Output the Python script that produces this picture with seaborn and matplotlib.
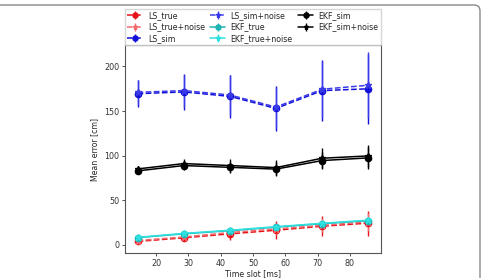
import matplotlib
matplotlib.use('Agg')
import matplotlib.pyplot as plt
from matplotlib.patches import PathPatch
from matplotlib.path import Path
import seaborn as sns

time_slot = [14.3, 28.6, 42.9, 57.1, 71.4, 85.7]

ls_true = [4.0, 8.0, 12.5, 16.5, 21.0, 24.5]
ls_true_err = [1.5, 4.0, 7.0, 10.0, 11.0, 14.0]
ls_true_noise = [5.0, 9.0, 14.0, 18.0, 22.0, 26.0]
ls_true_noise_err = [1.5, 3.0, 5.0, 7.0, 8.0, 10.0]

ls_sim = [169.5, 171.5, 166.5, 153.0, 173.0, 175.0]
ls_sim_err = [15.0, 20.0, 24.0, 25.0, 34.0, 39.0]
ls_sim_noise = [171.0, 173.0, 168.0, 154.5, 174.5, 179.0]
ls_sim_noise_err = [14.0, 18.0, 22.0, 23.0, 32.0, 37.0]

ekf_true = [8.2, 12.5, 16.0, 20.0, 23.8, 27.3]
ekf_true_err = [1.0, 1.5, 2.0, 2.0, 2.5, 3.0]
ekf_true_noise = [8.6, 13.0, 16.5, 20.5, 24.3, 27.8]
ekf_true_noise_err = [1.0, 1.5, 2.0, 2.0, 2.5, 3.0]

ekf_sim = [83.0, 89.0, 87.0, 85.0, 94.6, 97.6]
ekf_sim_err = [3.5, 5.0, 6.5, 8.0, 10.0, 12.0]
ekf_sim_noise = [85.2, 91.2, 89.0, 86.7, 97.2, 99.8]
ekf_sim_noise_err = [3.5, 5.5, 7.0, 8.0, 11.0, 12.5]

series = [
    ('LS_true', ls_true, ls_true_err, '#e8121a', 'o', '--'),
    ('LS_true+noise', ls_true_noise, ls_true_noise_err, '#f06a6e', '*', '--'),
    ('LS_sim', ls_sim, ls_sim_err, '#1010d8', 'o', '--'),
    ('LS_sim+noise', ls_sim_noise, ls_sim_noise_err, '#3a3ae8', '*', '--'),
    ('EKF_true', ekf_true, ekf_true_err, '#1fb3b3', 'o', '-'),
    ('EKF_true+noise', ekf_true_noise, ekf_true_noise_err, '#2ee0e0', '*', '-'),
    ('EKF_sim', ekf_sim, ekf_sim_err, 'black', 'o', '-'),
    ('EKF_sim+noise', ekf_sim_noise, ekf_sim_noise_err, 'black', '*', '-'),
]

sns.set_theme(style='ticks')
plt.rcParams['font.family'] = ['DejaVu Sans']

fig = plt.figure(figsize=(4.83, 2.78), dpi=100)
ax = fig.add_axes([0.2588, 0.0899, 0.53, 0.748])

for name, vals, err, color, marker, ls in series:
    ax.errorbar(time_slot, vals, yerr=err, color=color, marker=marker, linestyle=ls,
                linewidth=1.1, markersize=4.5, elinewidth=1.0, label=name)

ax.set_xlim(10.4, 89.6)
ax.set_ylim(-9, 224)
ax.set_xticks([20, 30, 40, 50, 60, 70, 80])
ax.set_yticks([0, 50, 100, 150, 200])
ax.tick_params(labelsize=5.8, length=2.5, width=0.6, pad=1.5, colors='#333333')
for sp in ax.spines.values():
    sp.set_linewidth(0.8)
    sp.set_color('#555555')
ax.set_xlabel('Time slot [ms]', fontsize=5.6, labelpad=1)
ax.set_ylabel('Mean error [cm]', fontsize=5.6, labelpad=4)

ax.legend(loc='lower left', bbox_to_anchor=(0, 1.0, 1.0, 0.2), mode='expand', ncol=3,
          fontsize=5.7, borderaxespad=0, frameon=True, fancybox=False,
          handlelength=1.9, handletextpad=0.7, labelspacing=0.3, borderpad=0.3,
          columnspacing=1.0, markerscale=0.8, edgecolor='#cccccc')

# page frame: top edge and right edge with a rounded corner
x_r, y_t, r = 480, 273, 6
verts = [(0, y_t), (x_r - r, y_t), (x_r, y_t), (x_r, y_t - r), (x_r, 0)]
codes = [Path.MOVETO, Path.LINETO, Path.CURVE3, Path.CURVE3, Path.LINETO]
frame = PathPatch(Path(verts, codes), transform=None, facecolor='none',
                  edgecolor='#888888', linewidth=1.0)
fig.patches.append(frame)

fig.savefig('out.png', dpi=100)
